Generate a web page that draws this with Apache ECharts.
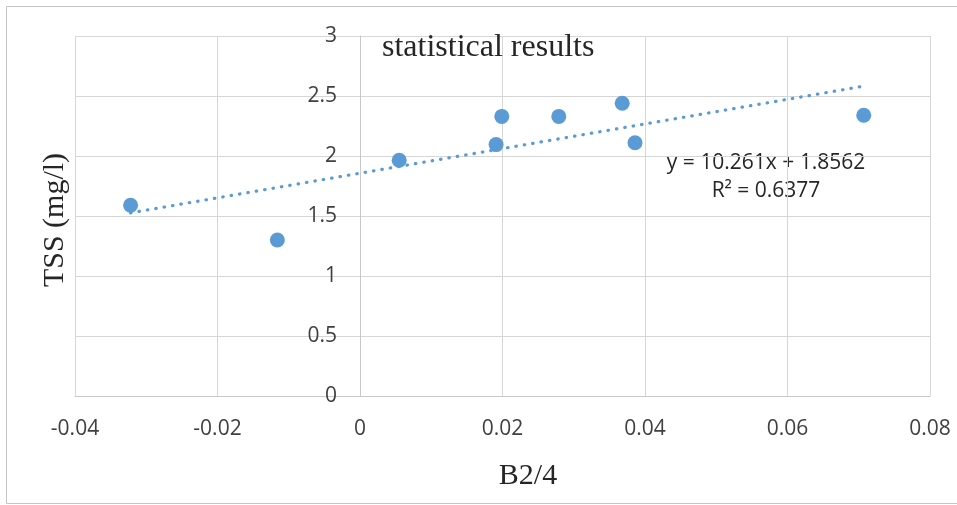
<!DOCTYPE html>
<html>
<head>
<meta charset="utf-8">
<script src="https://cdn.jsdelivr.net/npm/echarts@6/dist/echarts.min.js"></script>
<style>html,body{margin:0;padding:0;background:#fff}#c{width:957px;height:505px}</style>
</head>
<body>
<div id="c"></div>
<script>
// Data
const b24 = [-0.0322, -0.0116, 0.0055, 0.0191, 0.0199, 0.0279, 0.0368, 0.0386, 0.0707];
const tss = [1.59, 1.30, 1.965, 2.095, 2.33, 2.33, 2.44, 2.11, 2.34];
const trendX = [-0.0322, 0.0707];
const trendY = [1.526, 2.582];
const equationLines = ['y = 10.261x + 1.8562', 'R\u00B2 = 0.6377'];
const titleText = 'statistical results';
const xName = 'B2/4';
const yName = 'TSS (mg/l)';

const points = b24.map((x, i) => [x, tss[i]]);
const trend = trendX.map((x, i) => [x, trendY[i]]);

const chart = echarts.init(document.getElementById('c'), null, {renderer: 'canvas'});
const serif = '"Liberation Serif", "DejaVu Serif", serif';
const sans = '"Open Sans", "Liberation Sans", sans-serif';
const gridLeft = 75, gridRight = 27, W = 957;
const xMin = -0.04, xMax = 0.08;
// place the vertical axis where x = 0 crosses the plot
const zeroOffset = -((0 - xMin) / (xMax - xMin)) * (W - gridLeft - gridRight);
chart.setOption({
  animation: false,
  backgroundColor: '#ffffff',
  title: {
    text: titleText, left: 377, top: 27,
    textStyle: {fontFamily: serif, fontSize: 32, fontWeight: 'normal', color: '#262626'}
  },
  grid: {left: gridLeft, right: gridRight, top: 36, bottom: 109, containLabel: false},
  xAxis: {
    type: 'value', min: xMin, max: xMax, interval: 0.02,
    axisLine: {show: true, onZero: true, lineStyle: {color: '#c8c8c8', width: 1}},
    axisTick: {show: false},
    axisLabel: {margin: 23, fontFamily: sans, fontSize: 21, color: '#404040',
      formatter: v => (Math.abs(v) < 1e-12 ? '0' : String(+v.toFixed(2)))},
    splitLine: {show: true, lineStyle: {color: '#d6d6d6', width: 1}}
  },
  yAxis: {
    type: 'value', min: 0, max: 3, interval: 0.5,
    offset: zeroOffset,
    axisLine: {show: true, onZero: false, lineStyle: {color: '#c8c8c8', width: 1}},
    axisTick: {show: false},
    axisLabel: {margin: 23, fontFamily: sans, fontSize: 21, color: '#404040'},
    splitLine: {show: true, lineStyle: {color: '#d6d6d6', width: 1}}
  },
  series: [
    {
      type: 'scatter', data: points, symbolSize: 15,
      itemStyle: {color: '#5b9bd5', opacity: 1}, z: 3
    },
    {
      type: 'line', data: trend, symbol: 'none', silent: true,
      lineStyle: {color: '#5b9bd5', width: 3.2, type: [0.5, 8], cap: 'round'}, z: 4
    }
  ],
  graphic: [
    {type: 'rect', shape: {x: 6.5, y: 6.5, width: 1000, height: 497}, silent: true,
      style: {fill: null, stroke: '#c4c4c4', lineWidth: 1}, z: -1},
    {type: 'text', x: 55, y: 220, rotation: Math.PI / 2,
      style: {text: yName, fontFamily: serif, fontSize: 30, fill: '#262626', align: 'center', verticalAlign: 'middle'}},
    {type: 'text', x: 528, y: 476,
      style: {text: xName, fontFamily: serif, fontSize: 30, fill: '#262626', align: 'center', verticalAlign: 'middle'}},
    {type: 'text', x: 766, y: 163,
      style: {text: equationLines[0], fontFamily: sans, fontSize: 21, fill: '#262626', align: 'center', verticalAlign: 'middle'}},
    {type: 'text', x: 766, y: 191,
      style: {text: equationLines[1], fontFamily: sans, fontSize: 21, fill: '#262626', align: 'center', verticalAlign: 'middle'}}
  ]
});
</script>
</body>
</html>
